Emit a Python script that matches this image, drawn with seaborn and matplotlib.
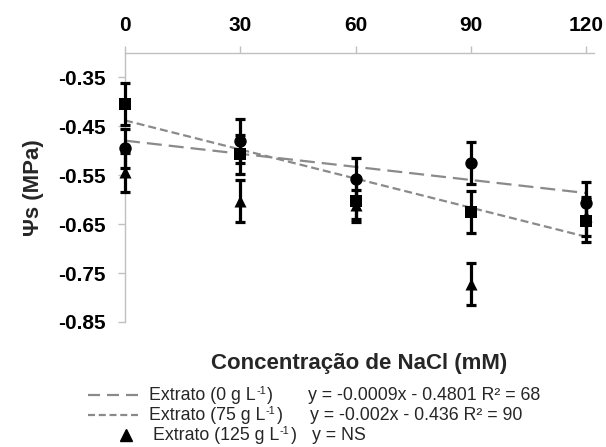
import matplotlib
matplotlib.use("Agg")
import matplotlib.pyplot as plt
import seaborn as sns
import pandas as pd
import numpy as np
from matplotlib.lines import Line2D

# ---- data ----
nacl = [0, 30, 60, 90, 120]
x_ticks = [0, 30, 60, 90, 120]
y_ticks = [-0.35, -0.45, -0.55, -0.65, -0.75, -0.85]

psi_0g = [-0.495, -0.480, -0.558, -0.524, -0.607]
err_0g = [0.040, 0.045, 0.043, 0.043, 0.043]
psi_75g = [-0.405, -0.507, -0.603, -0.626, -0.643]
err_75g = [0.043, 0.040, 0.043, 0.043, 0.044]
psi_125g = [-0.544, -0.603, -0.610, -0.772, -0.634]
err_125g = [0.040, 0.043, 0.030, 0.043, 0.040]

legend_base = ["Extrato (0 g L", "Extrato (75 g L", "Extrato (125 g L"]
legend_sup = "-1"
legend_tail = ")"
legend_eqs = ["y = -0.0009x - 0.4801 R\u00b2 = 68",
              "y = -0.002x - 0.436 R\u00b2 = 90",
              "y = NS"]

sns.set_theme(style="white")
plt.rcParams['font.family'] = ['Liberation Sans', 'DejaVu Sans']

df0 = pd.DataFrame({"x": nacl, "y": psi_0g})
df75 = pd.DataFrame({"x": nacl, "y": psi_75g})
df125 = pd.DataFrame({"x": nacl, "y": psi_125g})

W, H = 606, 447
fig = plt.figure(figsize=(W/100, H/100), dpi=100)
ax = fig.add_axes([125/W, 1-322/H, (594-125)/W, (322-53)/H])

gray = "#8a8a8a"
lw = 1.6
sns.regplot(data=df0, x="x", y="y", ci=None, scatter=False, ax=ax,
            line_kws=dict(color=gray, lw=lw, dashes=(6.75, 3.15)))
sns.regplot(data=df75, x="x", y="y", ci=None, scatter=False, ax=ax,
            line_kws=dict(color=gray, lw=lw, dashes=(3.6, 1.8)))

for yv, ev in [(psi_0g, err_0g), (psi_75g, err_75g), (psi_125g, err_125g)]:
    cont = ax.errorbar(nacl, yv, yerr=ev, fmt='none', ecolor='black',
                       elinewidth=2.3, capsize=3.8, capthick=2.3, zorder=3)
    for art in cont.lines[1]:
        art.set_clip_on(False)
    for art in cont.lines[2]:
        art.set_clip_on(False)

sns.scatterplot(data=df0, x="x", y="y", marker='o', color='black', s=80,
                edgecolor='black', linewidth=0, ax=ax, zorder=4)
sns.scatterplot(data=df75, x="x", y="y", marker='s', color='black', s=64,
                edgecolor='black', linewidth=0, ax=ax, zorder=4)
sns.scatterplot(data=df125, x="x", y="y", marker='^', color='black', s=75,
                edgecolor='black', linewidth=0, ax=ax, zorder=4)
for c in ax.collections:
    c.set_clip_on(False)

ax.set_xlim(0, 122)
ax.set_ylim(-0.85, -0.30)
ax.set_xticks(x_ticks)
ax.set_xticklabels([str(v) for v in x_ticks], fontsize=15, fontweight='bold')
ax.set_yticks(y_ticks)
ax.set_yticklabels([f"{v:.2f}" for v in y_ticks], fontsize=15, fontweight='bold')
ax.xaxis.tick_top()
ax.xaxis.set_label_position('bottom')
spine_c = "#c0c0c0"
for s in ['bottom', 'right']:
    ax.spines[s].set_visible(False)
for s in ['top', 'left']:
    ax.spines[s].set_color(spine_c)
    ax.spines[s].set_linewidth(1.0)
ax.tick_params(axis='x', which='both', top=True, bottom=False, direction='out',
               length=5, width=1, color=spine_c, pad=8, labelcolor='black')
ax.tick_params(axis='y', which='both', left=True, direction='out',
               length=5, width=1, color=spine_c, pad=9, labelcolor='black')
ax.set_xlabel("Concentra\u00e7\u00e3o de NaCl (mM)", fontsize=16, fontweight='bold',
              labelpad=0)
ax.xaxis.set_label_coords(0.5, -0.115)
ax.set_ylabel("\u03a8s (MPa)", fontsize=16, fontweight='bold')
ax.yaxis.set_label_coords(-0.172, 0.5)
ax.grid(False)

# ---- custom legend below ----
fs = 12.8
rows_y = [395, 415, 435]          # vertical centres in pixels
def fy(py):
    return 1 - py/H
def fx(px):
    return px/W
fig.add_artist(Line2D([fx(88), fx(138)], [fy(rows_y[0])]*2, color=gray, lw=lw,
                      dashes=(5.4, 3.15), transform=fig.transFigure))
fig.add_artist(Line2D([fx(88), fx(138)], [fy(rows_y[1])]*2, color=gray, lw=lw,
                      dashes=(3.15, 1.69), transform=fig.transFigure))
fig.add_artist(Line2D([fx(126)], [fy(rows_y[2])], color='black', marker='^',
                      markersize=8, linestyle='none', transform=fig.transFigure))

renderer = fig.canvas.get_renderer()
text_x = [149, 149, 153]
eq_x = [308, 310, 312]
for i in range(3):
    base_y = rows_y[i] + 5   # baseline pixel
    t1 = fig.text(fx(text_x[i]), fy(base_y), legend_base[i], fontsize=fs,
                  va='baseline', ha='left')
    bb = t1.get_window_extent(renderer)
    t2 = fig.text(bb.x1/W + 0.5/W, fy(base_y - 6), legend_sup, fontsize=fs*0.62,
                  va='baseline', ha='left')
    bb2 = t2.get_window_extent(renderer)
    fig.text(bb2.x1/W + 1/W, fy(base_y), legend_tail, fontsize=fs,
             va='baseline', ha='left')
    fig.text(fx(eq_x[i]), fy(base_y), legend_eqs[i], fontsize=fs,
             va='baseline', ha='left')

fig.savefig("out.png", dpi=100)
